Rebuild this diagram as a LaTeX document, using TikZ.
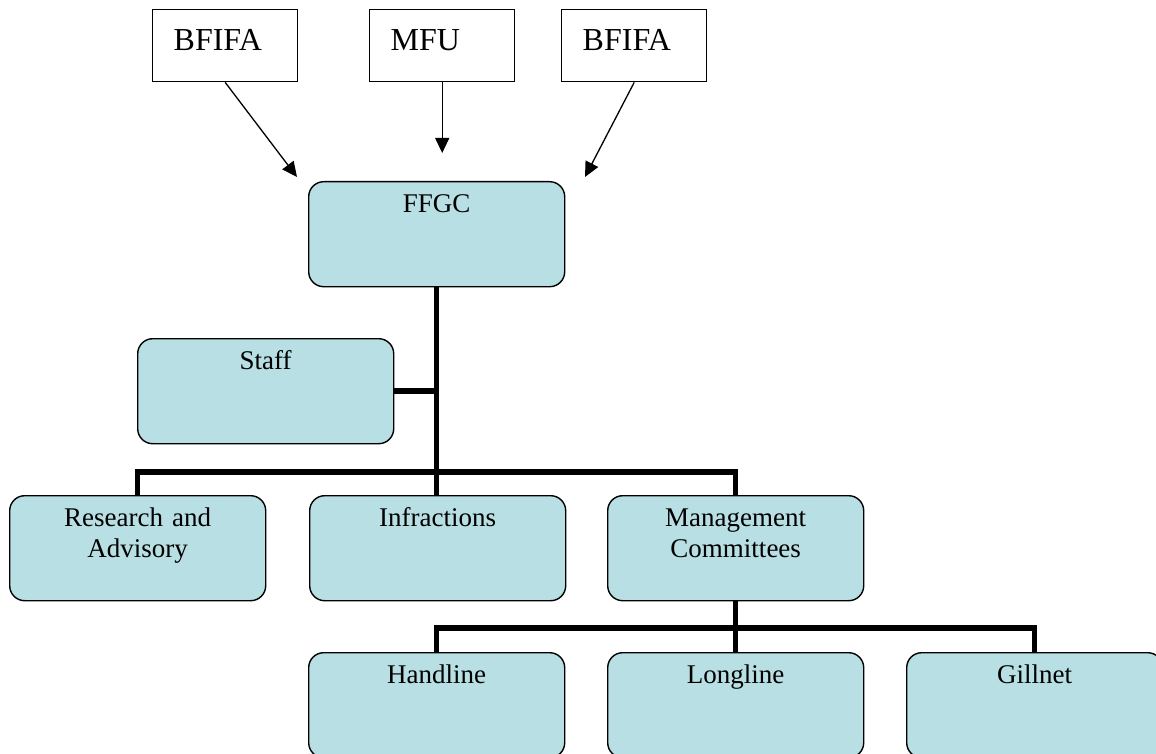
\documentclass[tikz,border=0pt]{standalone}
\usepackage{fontspec}
\setmainfont{Liberation Serif}
\usetikzlibrary{arrows.meta}
\definecolor{boxblue}{RGB}{184,223,227}

\begin{document}
\begin{tikzpicture}[x=1pt, y=-1pt,
    orgbox/.style = {shape=rectangle, rounded corners=15pt, draw, line width=1.4pt, fill=boxblue,
                     inner sep=0pt, text width=256pt, align=center, anchor=north west,
                     text height=31pt, text depth=74pt, font=\fontsize{27}{31}\selectfont},
    topbox/.style = {shape=rectangle, draw, line width=1.4pt, fill=white,
                     inner xsep=21pt, inner ysep=0pt, text width=103pt, align=left, anchor=north west,
                     text height=41pt, text depth=31pt, font=\fontsize{32}{37}\selectfont},
    link/.style = {line width=5.5pt},
    feed/.style = {line width=1.3pt, -{Triangle[length=15pt, width=14pt]}}]
  \useasboundingbox (0,0) rectangle (1156,754);
  \clip (0,0) rectangle (1156,754);

  % bodies feeding the council
  \node[topbox] (bfifaL) at (152,9) {BFIFA};
  \node[topbox] (mfu) at (369,9) {MFU};
  \node[topbox] (bfifaR) at (561,9) {BFIFA};

  % council and its units
  \node[orgbox] (ffgc) at (308,181) {FFGC};
  \node[orgbox] (staff) at (137,338) {Staff};
  \node[orgbox] (research) at (9,495) {Research and\\Advisory};
  \node[orgbox] (infractions) at (309,495) {Infractions};
  \node[orgbox] (mgmt) at (607,495) {Management\\Committees};
  \node[orgbox] (handline) at (308,652) {Handline};
  \node[orgbox] (longline) at (607,652) {Longline};
  \node[orgbox] (gillnet) at (906,652) {Gillnet};

  \coordinate (inL) at (297,177);
  \coordinate (inM) at (441,153);
  \coordinate (inR) at (585,177);
  \draw[feed] (bfifaL.south) -- (inL);
  \draw[feed] (mfu.south) -- (mfu.south |- inM);
  \draw[feed] (bfifaR.south) -- (inR);

  \draw[link] (ffgc.south) -- (ffgc.south |- infractions.north);
  \draw[link] (staff.east) -- (staff.east -| ffgc.south);
  \draw[link] (research.north) -- ++(0,-23) -| (mgmt.north);
  \draw[link] (mgmt.south) -- (mgmt.south |- longline.north);
  \draw[link] (handline.north) -- ++(0,-24) -| (gillnet.north);
\end{tikzpicture}
\end{document}
